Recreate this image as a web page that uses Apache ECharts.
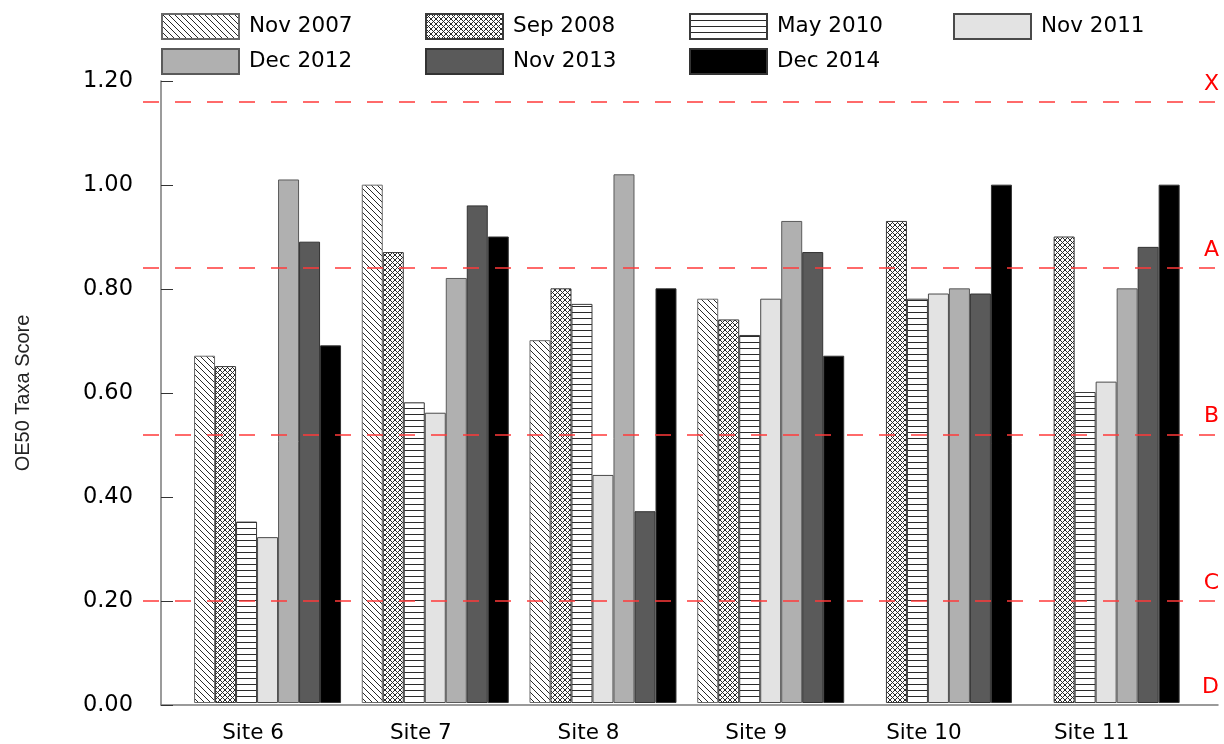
<!DOCTYPE html>
<html>
<head>
<meta charset="utf-8">
<script src="https://cdn.jsdelivr.net/npm/echarts@6/dist/echarts.min.js"></script>
<style>
html,body{margin:0;padding:0;background:#fff;}
#chart{width:1224px;height:744px;}
</style>
</head>
<body>
<div id="chart"></div>
<script>
// ---- data ----
var categories = ['Site 6', 'Site 7', 'Site 8', 'Site 9', 'Site 10', 'Site 11'];
var seriesNames = ['Nov 2007', 'Sep 2008', 'May 2010', 'Nov 2011', 'Dec 2012', 'Nov 2013', 'Dec 2014'];
var nov2007 = [0.67, 1.00, 0.70, 0.78, null, null];
var sep2008 = [0.65, 0.87, 0.80, 0.74, 0.93, 0.90];
var may2010 = [0.35, 0.58, 0.77, 0.71, 0.78, 0.60];
var nov2011 = [0.32, 0.56, 0.44, 0.78, 0.79, 0.62];
var dec2012 = [1.01, 0.82, 1.02, 0.93, 0.80, 0.80];
var nov2013 = [0.89, 0.96, 0.37, 0.87, 0.79, 0.88];
var dec2014 = [0.69, 0.90, 0.80, 0.67, 1.00, 1.00];
var thresholdValues = [1.16, 0.84, 0.52, 0.20, 0.00];
var thresholdLabels = ['X', 'A', 'B', 'C', 'D'];

// ---- patterns ----
function makePattern(kind) {
  var s = kind === 'x' ? 5 : 6;
  var c = document.createElement('canvas');
  c.width = s; c.height = s;
  var ctx = c.getContext('2d');
  ctx.fillStyle = '#ffffff';
  ctx.fillRect(0, 0, s, s);
  ctx.fillStyle = '#2a2a2a';
  for (var i = 0; i < s; i++) {
    if (kind === 'd') ctx.fillRect(i, i, 1, 1);
    if (kind === 'x') { ctx.fillRect(i, i, 1, 1); ctx.fillRect(s - 1 - i, i, 1, 1); }
  }
  if (kind === 'h') ctx.fillRect(0, 0, s, 1);
  return { image: c, repeat: 'repeat' };
}

var seriesData = [nov2007, sep2008, may2010, nov2011, dec2012, nov2013, dec2014];
var fills = [makePattern('d'), makePattern('x'), makePattern('h'), '#e3e3e3', '#b0b0b0', '#5a5a5a', '#000000'];
var borders = ['#6a6a6a', '#3a3a3a', '#3a3a3a', '#4a4a4a', '#5a5a5a', '#333333', '#333333'];

var FONT = 'DejaVu Sans';

var series = seriesNames.map(function (name, i) {
  return {
    name: name,
    type: 'bar',
    xAxisIndex: 0,
    yAxisIndex: 0,
    data: seriesData[i],
    barWidth: 21,
    barGap: '0%',
    itemStyle: { color: fills[i], borderColor: borders[i], borderWidth: 1 },
    emphasis: { disabled: true },
    z: 2
  };
});

series.push({
  name: 'thresholds',
  type: 'line',
  xAxisIndex: 2,
  yAxisIndex: 2,
  data: [],
  z: 6,
  silent: true,
  markLine: {
    silent: true,
    symbol: ['none', 'none'],
    animation: false,
    lineStyle: { color: '#ff3a3a', type: [16, 16], width: 1.5 },
    label: {
      show: true,
      position: 'insideEndTop',
      color: '#ff0000',
      fontFamily: FONT,
      fontSize: 22,
      distance: [5, 7]
    },
    data: thresholdValues.map(function (v, i) {
      var d = { yAxis: v, label: { formatter: thresholdLabels[i] } };
      if (v === 0) d.lineStyle = { color: 'rgba(255,255,255,0)' };
      return d;
    })
  }
});

var legendPos = [[161, 13], [425, 13], [689, 13], [953, 13], [161, 48], [425, 48], [689, 48]];
var legends = seriesNames.map(function (name, i) {
  return {
    data: [name],
    left: legendPos[i][0],
    top: legendPos[i][1],
    padding: 0,
    itemWidth: 77,
    itemHeight: 25,
    icon: 'rect',
    selectedMode: false,
    textStyle: { fontFamily: FONT, fontSize: 21.5, color: '#000', padding: [0, 0, 0, 5] }
  };
});

var option = {
  animation: false,
  backgroundColor: '#ffffff',
  legend: legends,
  grid: [
    { left: 183.7, right: 34, top: 81, bottom: 39 },
    { left: 161, right: 6, top: 81, bottom: 39 },
    { left: 143, right: 0, top: 81, bottom: 39 }
  ],
  xAxis: [
    {
      type: 'category', gridIndex: 0, data: categories,
      axisLine: { show: false }, axisTick: { show: false },
      axisLabel: { fontFamily: FONT, fontSize: 21.5, color: '#000', margin: 19, padding: [0, 29, 0, 0] }
    },
    {
      type: 'value', gridIndex: 1, min: 0, max: 1,
      axisLine: { show: true, lineStyle: { color: '#7a7a7a', width: 1.5 } },
      axisTick: { show: false }, axisLabel: { show: false }, splitLine: { show: false }
    },
    { type: 'value', gridIndex: 2, min: 0, max: 1, show: false }
  ],
  yAxis: [
    { type: 'value', gridIndex: 0, min: 0, max: 1.2, interval: 0.2, show: false },
    {
      type: 'value', gridIndex: 1, min: 0, max: 1.2, interval: 0.2,
      name: 'OE50 Taxa Score', nameLocation: 'middle', nameGap: 128,
      nameTextStyle: { fontFamily: 'Liberation Sans', fontSize: 20, color: '#222' },
      axisLine: { show: true, lineStyle: { color: '#7a7a7a', width: 1.5 } },
      axisTick: { show: true, inside: true, length: 12, lineStyle: { color: '#333' } },
      axisLabel: {
        fontFamily: FONT, fontSize: 22.5, color: '#000', margin: 28,
        formatter: function (v) { return v.toFixed(2); }
      },
      splitLine: { show: false }
    },
    { type: 'value', gridIndex: 2, min: 0, max: 1.2, show: false }
  ],
  series: series
};

var chart = echarts.init(document.getElementById('chart'), null, { renderer: 'canvas' });
chart.setOption(option);
</script>
</body>
</html>
